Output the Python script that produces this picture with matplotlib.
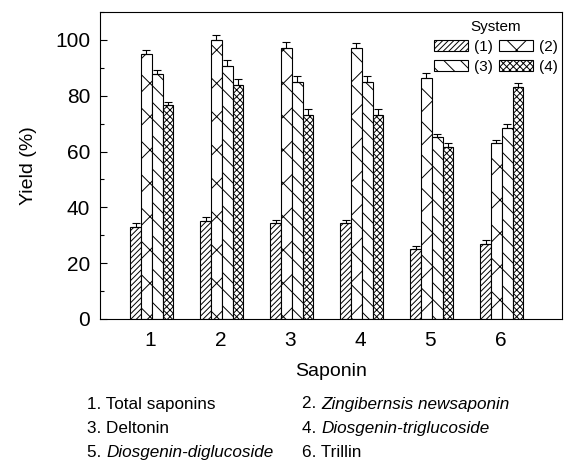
import matplotlib
matplotlib.use("Agg")
import matplotlib.pyplot as plt
import numpy as np
from matplotlib.ticker import MultipleLocator

plt.rcParams['font.family'] = ['Liberation Sans', 'DejaVu Sans']
plt.rcParams['hatch.linewidth'] = 0.7

categories = ['1', '2', '3', '4', '5', '6']
systems = ['(1)', '(2)', '(3)', '(4)']
sys1 = [33.0, 35.0, 34.5, 34.5, 25.0, 27.0]
sys2 = [95.0, 99.8, 97.2, 97.2, 86.5, 63.0]
sys3 = [87.8, 90.8, 85.0, 85.0, 65.2, 68.4]
sys4 = [76.8, 84.0, 73.0, 73.0, 61.8, 83.2]
err1 = [1.4, 1.6, 1.0, 1.0, 1.2, 1.3]
err2 = [1.3, 1.9, 2.0, 1.7, 1.6, 1.2]
err3 = [1.3, 1.9, 2.0, 2.0, 1.1, 1.4]
err4 = [1.0, 1.9, 2.1, 2.1, 1.1, 1.2]
hatches = ['//////', 'x', '\\\\', 'xxxxx']
notes = [("1. Total saponins", False), ("2. Zingibernsis newsaponin", True),
         ("3. Deltonin", False), ("4. Diosgenin-triglucoside", True),
         ("5. Diosgenin-diglucoside", True), ("6. Trillin", False)]

fig = plt.figure(figsize=(5.64, 4.65), dpi=100)
ax = fig.add_axes([0.1773, 0.314, 0.8192, 0.6602])

x = np.arange(1, len(categories) + 1)
w = 0.154
series = [sys1, sys2, sys3, sys4]
errs = [err1, err2, err3, err4]
handles = []
for i, (vals, e, h, lab) in enumerate(zip(series, errs, hatches, systems)):
    pos = x + (i - 1.5) * w + 0.02
    b = ax.bar(pos, vals, width=w, color='white', edgecolor='black', linewidth=0.8,
               hatch=h, label=lab, zorder=2)
    handles.append(b)
    ax.errorbar(pos, vals, yerr=[np.zeros(len(e)), e], fmt='none', ecolor='black',
                elinewidth=0.8, capsize=3, capthick=0.8, zorder=3)

ax.set_xlim(0.28, 6.88)
ax.set_ylim(0, 110)
ax.set_xticks(x)
ax.set_xticklabels(categories)
ax.yaxis.set_major_locator(MultipleLocator(20))
ax.yaxis.set_minor_locator(MultipleLocator(10))
ax.tick_params(axis='x', length=0, labelsize=15, pad=9)
ax.tick_params(axis='y', which='major', direction='in', length=5, labelsize=15, width=0.8, pad=7)
ax.tick_params(axis='y', which='minor', direction='in', length=3, width=0.8)
for s in ax.spines.values():
    s.set_linewidth(0.8)
ax.set_xlabel('Saponin', fontsize=14, labelpad=9)
ax.set_ylabel('Yield (%)', fontsize=14, labelpad=13)

order = [0, 2, 1, 3]
leg = ax.legend([handles[k] for k in order], [systems[k] for k in order],
                title='System', ncol=2, frameon=False, fontsize=11,
                title_fontsize=11, loc='upper right', bbox_to_anchor=(0.997, 0.985),
                handlelength=2.2, handleheight=0.7, columnspacing=0.4,
                handletextpad=0.4, labelspacing=0.4, borderaxespad=0.0,
                borderpad=0.2)

ys = [404, 428, 452]
xs = [87, 302]
fs = 12.3
fig.canvas.draw()
for k, (txt, it) in enumerate(notes):
    r, c = divmod(k, 2)
    num, rest = txt.split(' ', 1)
    if it:
        t = fig.text(xs[c] / 564, 1 - ys[r] / 465, num + ' ', fontsize=fs, va='center', ha='left')
        fig.canvas.draw()
        bb = t.get_window_extent()
        fig.text(bb.x1 / 564, 1 - ys[r] / 465, rest, fontsize=fs, va='center', ha='left', style='italic')
    else:
        fig.text(xs[c] / 564, 1 - ys[r] / 465, txt, fontsize=fs, va='center', ha='left')

fig.savefig('out.png', dpi=100)
